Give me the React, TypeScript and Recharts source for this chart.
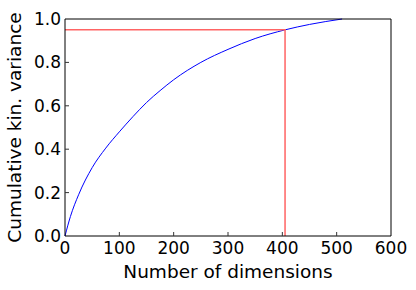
import { LineChart, Line, XAxis, YAxis, Label } from "recharts";

// number of dimensions vs cumulative kinetic variance
const dims = [0, 10, 25, 50, 75, 100, 125, 150, 175, 200, 250, 300, 350, 405, 450, 510];
const cumVar = [0, 0.09, 0.19, 0.315, 0.405, 0.48, 0.55, 0.615, 0.67, 0.72, 0.8, 0.86, 0.91, 0.95, 0.975, 1.0];

// 95% cutoff marker
const cutoffDims = [0, 405, 405];
const cutoffVar = [0.95, 0.95, 0];

const xTicks = [0, 100, 200, 300, 400, 500, 600];
const yTicks = [0, 0.2, 0.4, 0.6, 0.8, 1.0];

const curve = dims.map((x, i) => ({ x, y: cumVar[i] }));
const cutoff = cutoffDims.map((x, i) => ({ x, y: cutoffVar[i] }));

const FONT = "'DejaVu Sans', sans-serif";
const TICK_FS = 17;
const LABEL_FS = 18.5;
const TICK_LEN = 4;
const TICK_COLOR = "#333";

const BottomTick = (props: any) => {
  const { x, y, payload } = props;
  const axisY = y - 6;
  const inner = payload.value !== 0 && payload.value !== 600;
  return (
    <g>
      {inner && <line x1={x} x2={x} y1={axisY} y2={axisY - TICK_LEN} stroke={TICK_COLOR} />}
      <text x={x} y={y + 12.3} textAnchor="middle" fontFamily={FONT} fontSize={TICK_FS} fill="#000">
        {payload.value}
      </text>
    </g>
  );
};

const LeftTick = (props: any) => {
  const { x, y, payload } = props;
  const axisX = x + 4;
  const inner = payload.value !== 0 && payload.value !== 1;
  return (
    <g>
      {inner && <line x1={axisX} x2={axisX + TICK_LEN} y1={y} y2={y} stroke={TICK_COLOR} />}
      <text x={x} y={y + 6} textAnchor="end" fontFamily={FONT} fontSize={TICK_FS} fill="#000">
        {payload.value.toFixed(1)}
      </text>
    </g>
  );
};

const TopTick = (props: any) => {
  const { x, y, payload } = props;
  if (payload.value === 0 || payload.value === 600) return <g />;
  return <line x1={x} x2={x} y1={y} y2={y + TICK_LEN} stroke={TICK_COLOR} />;
};

const RightTick = (props: any) => {
  const { x, y, payload } = props;
  if (payload.value === 0 || payload.value === 1) return <g />;
  return <line x1={x} x2={x - TICK_LEN} y1={y} y2={y} stroke={TICK_COLOR} />;
};

export default function App() {
  return (
    <div style={{ position: "absolute", left: 0, top: 0 }}>
      <LineChart width={416} height={290} margin={{ top: 0, right: 0, bottom: 0, left: 0 }}>
        <XAxis
          dataKey="x"
          type="number"
          domain={[0, 600]}
          ticks={xTicks}
          height={54}
          tickSize={0}
          tickMargin={6}
          tickLine={false}
          tick={<BottomTick />}
          axisLine={{ stroke: "#000" }}
          interval={0}
        >
          <Label
            value="Number of dimensions"
            position="insideBottom"
            offset={12}
            style={{ fontFamily: FONT, fontSize: LABEL_FS, fill: "#000" }}
          />
        </XAxis>
        <XAxis
          xAxisId="top"
          orientation="top"
          type="number"
          domain={[0, 600]}
          ticks={xTicks}
          height={19}
          tickSize={0}
          tickMargin={0}
          tickLine={false}
          tick={<TopTick />}
          axisLine={{ stroke: "#000" }}
          interval={0}
        />
        <YAxis
          type="number"
          domain={[0, 1]}
          ticks={yTicks}
          width={65}
          tickSize={0}
          tickMargin={4}
          tickLine={false}
          tick={<LeftTick />}
          axisLine={{ stroke: "#000" }}
          interval={0}
        >
          <Label
            value="Cumulative kin. variance"
            angle={-90}
            position="insideLeft"
            offset={14.5}
            style={{ fontFamily: FONT, fontSize: LABEL_FS, fill: "#000", textAnchor: "middle" }}
          />
        </YAxis>
        <YAxis
          yAxisId="right"
          orientation="right"
          type="number"
          domain={[0, 1]}
          ticks={yTicks}
          width={25}
          tickSize={0}
          tickMargin={0}
          tickLine={false}
          tick={<RightTick />}
          axisLine={{ stroke: "#000" }}
          interval={0}
        />
        <Line
          data={curve}
          dataKey="y"
          type="monotone"
          stroke="#0000ff"
          strokeWidth={1}
          dot={false}
          isAnimationActive={false}
        />
        <Line
          data={cutoff}
          dataKey="y"
          type="linear"
          stroke="#ff6464"
          strokeWidth={1.5}
          dot={false}
          isAnimationActive={false}
        />
      </LineChart>
    </div>
  );
}
